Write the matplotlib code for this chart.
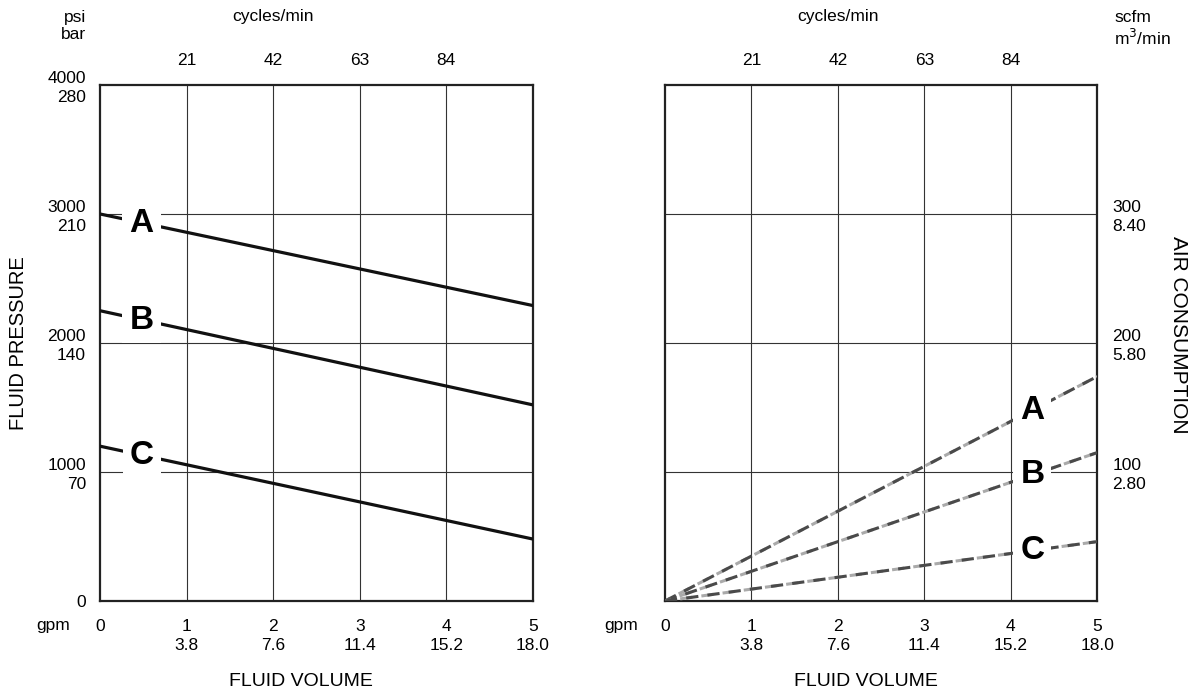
import matplotlib.pyplot as plt
import numpy as np

plt.rcParams['font.family'] = ['Liberation Sans', 'DejaVu Sans']

# data
gpm = [0, 5]
gpm_ticks = [0, 1, 2, 3, 4, 5]
gpm_labels = ["0", "1\n3.8", "2\n7.6", "3\n11.4", "4\n15.2", "5\n18.0"]
cyc_ticks = [1, 2, 3, 4]
cyc_labels = ["21", "42", "63", "84"]

psi_ticks = [0, 1000, 2000, 3000, 4000]
psi_labels = ["0", "1000\n70", "2000\n140", "3000\n210", "4000\n280"]
scfm_ticks = [100, 200, 300]
scfm_labels = ["100\n2.80", "200\n5.80", "300\n8.40"]

curves = ["A", "B", "C"]
pressure = {"A": [3000, 2290], "B": [2250, 1520], "C": [1200, 480]}
air = {"A": [0, 174], "B": [0, 115], "C": [0, 46]}

fs = 12.5
ls = 1.3

fig = plt.figure(figsize=(11.97, 6.93), dpi=100)
axL = fig.add_axes([0.0835, 0.1328, 0.3617, 0.7446])
axR = fig.add_axes([0.5556, 0.1328, 0.3610, 0.7446])

for ax in (axL, axR):
    ax.set_xlim(0, 5)
    ax.set_ylim(0, 4000 if ax is axL else 400)
    for s in ax.spines.values():
        s.set_linewidth(1.6)
        s.set_color("#222222")
    ax.set_xticks(gpm_ticks)
    ax.set_xticklabels(gpm_labels, fontsize=fs, linespacing=ls)
    ax.tick_params(axis="x", length=0, pad=13)
    for xv in cyc_ticks:
        ax.axvline(xv, color="#333333", lw=0.8, zorder=1)
    top = ax.secondary_xaxis("top")
    top.set_xticks(cyc_ticks)
    top.set_xticklabels(cyc_labels, fontsize=fs)
    top.tick_params(length=0, pad=12)
    top.spines["top"].set_visible(False)
    ax.set_xlabel("FLUID VOLUME", fontsize=14, labelpad=15, x=0.465)
    ax.annotate("cycles/min", xy=(2, 1), xycoords=("data", "axes fraction"),
                xytext=(0, 49), textcoords="offset points",
                ha="center", va="center", fontsize=fs)

# left panel: fluid pressure
for yv in [1000, 2000, 3000]:
    axL.axhline(yv, color="#333333", lw=0.8, zorder=1)
axL.set_yticks(psi_ticks)
axL.set_yticklabels(psi_labels, fontsize=fs, linespacing=ls)
axL.tick_params(axis="y", length=0, pad=10)
axL.set_ylabel("FLUID PRESSURE", fontsize=14.5, labelpad=14)

for c in curves:
    axL.plot(gpm, pressure[c], color="#111111", lw=2.3, zorder=3)
    yl = np.interp(0.5, gpm, pressure[c])
    axL.text(0.48, yl, c, fontsize=24, fontweight="bold", ha="center", va="center",
             zorder=4, bbox=dict(facecolor="white", edgecolor="none", pad=5))

# right panel: air consumption
for yv in [100, 200, 300]:
    axR.axhline(yv, color="#333333", lw=0.8, zorder=1)
axR.yaxis.tick_right()
axR.set_yticks(scfm_ticks)
axR.set_yticklabels(scfm_labels, fontsize=fs, linespacing=ls)
axR.tick_params(axis="y", length=0, pad=11)
axR.yaxis.set_label_position("right")
axR.set_ylabel("AIR CONSUMPTION", fontsize=15, rotation=270, labelpad=30, y=0.515)

for c in curves:
    axR.plot(gpm, air[c], color="#aaaaaa", lw=2.2, linestyle=(2, (4, 3)), zorder=3)
    axR.plot(gpm, air[c], color="#4a4a4a", lw=2.2, linestyle=(0, (4, 3)), zorder=3)
    yr = np.interp(4.25, gpm, air[c])
    axR.text(4.25, yr, c, fontsize=24, fontweight="bold", ha="center", va="center",
             zorder=4, bbox=dict(facecolor="white", edgecolor="none", pad=5))

# unit captions
fig.text(0.072, 0.985, "psi\nbar", ha="right", va="top", fontsize=fs, linespacing=1.15)
fig.text(0.931, 0.985, "scfm\nm$^3$/min", ha="left", va="top", fontsize=fs, linespacing=1.15)
fig.text(0.03, 0.098, "gpm", ha="left", va="center", fontsize=fs)
fig.text(0.505, 0.098, "gpm", ha="left", va="center", fontsize=fs)

fig.savefig("out.png", dpi=100)
